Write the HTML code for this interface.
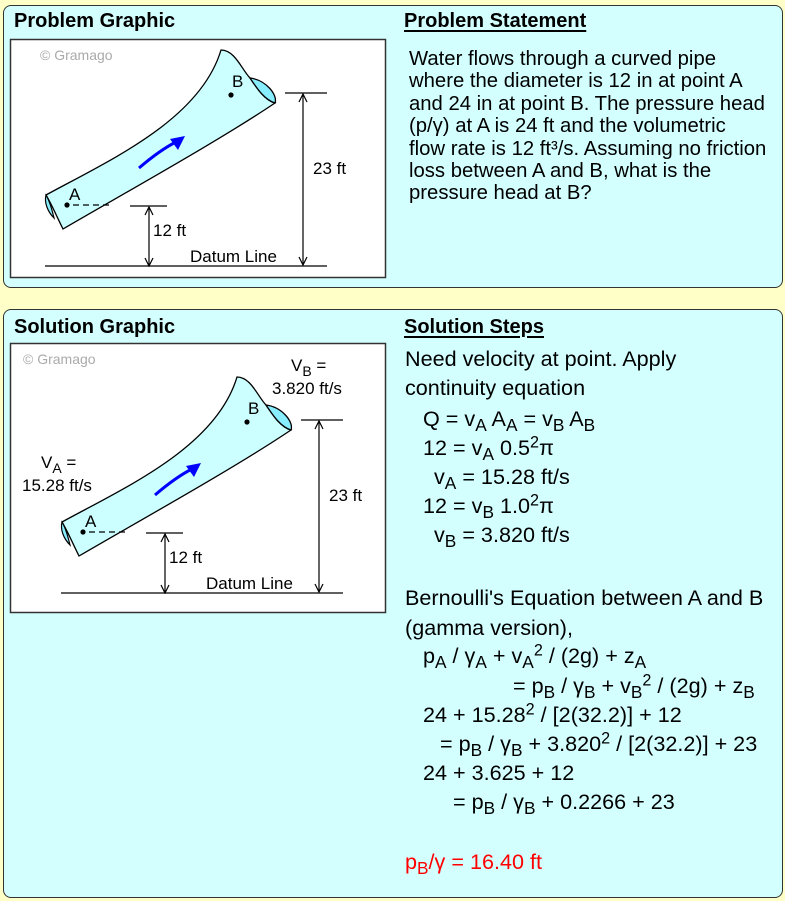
<!DOCTYPE html>
<html><head><style>
body{margin:0;width:785px;height:901px;background:#ffffc8;font-family:"Liberation Sans",Arial,sans-serif;position:relative;overflow:hidden}
.panel{position:absolute;left:3px;width:778px;background:#d4ffff;border:1.5px solid #333;border-radius:8px}
.t{position:absolute;white-space:pre;font-size:21.6px;color:#000;line-height:24px}
.h{position:absolute;font-weight:bold;font-size:20px;white-space:pre}
.u{text-decoration:underline;text-decoration-thickness:2px;text-underline-offset:3px}
sub{font-size:0.8em;vertical-align:-0.3em;line-height:0}
sup{font-size:0.75em;vertical-align:0.45em;line-height:0}
svg{position:absolute;left:0;top:0}
</style></head><body>
<div class="panel" style="top:5px;height:281px"></div>
<div class="panel" style="top:309px;height:587px"></div>
<div class="h" style="left:14px;top:10px">Problem Graphic</div>
<div class="h u" style="left:404px;top:10px">Problem Statement</div>
<div class="h" style="left:14px;top:316px">Solution Graphic</div>
<div class="h u" style="left:404px;top:316px">Solution Steps</div>

<svg width="785" height="901" font-family="Liberation Sans, Arial, sans-serif">
<defs>
<marker id="ar" markerWidth="10" markerHeight="10" refX="9" refY="5" orient="auto-start-reverse" markerUnits="userSpaceOnUse"><path d="M1,1 L9,5 L1,9" fill="none" stroke="#000" stroke-width="1.2"/></marker>
<g id="g">
<path d="M46,195 C110,160 200,120 221,50 C235,50 242,70 250,78 C258,90 265,100 275,103 C220,140 130,190 63,229 C56,215 52,205 46,195 Z" fill="#ccffff" stroke="#000" stroke-width="1.3"/>
<path d="M250,78 C266,80 278,95 275,103 C265,100 258,90 250,78 Z" fill="#88eeff" stroke="#000" stroke-width="1.3"/>
<path d="M46,195 C44,203 48,212 54,218 C52,210 50,202 46,195 Z" fill="#88eeff" stroke="#000" stroke-width="1.2"/>
<path d="M139,168 Q160,150 176,142" fill="none" stroke="#0000ff" stroke-width="3"/>
<path d="M185,136 L170,139 L178,150 Z" fill="#0000ff"/>
<circle cx="67" cy="205" r="2.6" fill="#000"/>
<circle cx="231" cy="95" r="2.6" fill="#000"/>
<text x="69" y="200" font-size="17">A</text>
<text x="232" y="87" font-size="17">B</text>
<line x1="73" y1="205" x2="112" y2="205" stroke="#000" stroke-width="1.3" stroke-dasharray="6,4"/>
<line x1="130" y1="206" x2="167" y2="206" stroke="#000" stroke-width="1.3"/>
<line x1="149" y1="207" x2="149" y2="266" stroke="#000" stroke-width="1.2" marker-start="url(#ar)" marker-end="url(#ar)" />
<text x="153" y="236" font-size="17">12 ft</text>
<line x1="45" y1="266" x2="327" y2="266" stroke="#000" stroke-width="1.3"/>
<text x="190" y="262" font-size="17">Datum Line</text>
<line x1="285" y1="93" x2="327" y2="93" stroke="#000" stroke-width="1.3"/>
<line x1="303" y1="94" x2="303" y2="265" stroke="#000" stroke-width="1.2" marker-start="url(#ar)" marker-end="url(#ar)"/>
<text x="313" y="174" font-size="17">23 ft</text>
</g>
</defs>
<rect x="10.5" y="39.5" width="375" height="238" fill="#fff" stroke="#333" stroke-width="1.5"/>
<text x="40" y="60" font-size="14" fill="#aaa">© Gramago</text>
<use href="#g"/>
<rect x="10.5" y="343.5" width="375" height="269" fill="#fff" stroke="#333" stroke-width="1.5"/>
<text x="23" y="364" font-size="14" fill="#aaa">© Gramago</text>
<use href="#g" transform="translate(16,327)"/>
<text x="291" y="371" font-size="17">V<tspan font-size="14" dy="5">B</tspan><tspan dy="-5"> =</tspan></text>
<text x="272" y="394" font-size="17">3.820 ft/s</text>
<text x="41" y="468" font-size="17">V<tspan font-size="14" dy="5">A</tspan><tspan dy="-5"> =</tspan></text>
<text x="22" y="491" font-size="17">15.28 ft/s</text>
</svg>

<div class="t" style="left:409px;top:48px;line-height:22.4px;font-size:20.3px">Water flows through a curved pipe
where the diameter is 12 in at point A
and 24 in at point B. The pressure head
(p/γ) at A is 24 ft and the volumetric
flow rate is 12 ft³/s. Assuming no friction
loss between A and B, what is the
pressure head at B?</div>

<div class="t" style="left:405px;top:347px">Need velocity at point. Apply</div>
<div class="t" style="left:405px;top:376px">continuity equation</div>
<div class="t" style="left:423px;top:407px">Q = v<sub>A</sub> A<sub>A</sub> = v<sub>B</sub> A<sub>B</sub></div>
<div class="t" style="left:423px;top:436px">12 = v<sub>A</sub> 0.5<sup>2</sup>π</div>
<div class="t" style="left:434px;top:465px">v<sub>A</sub> = 15.28 ft/s</div>
<div class="t" style="left:423px;top:494px">12 = v<sub>B</sub> 1.0<sup>2</sup>π</div>
<div class="t" style="left:434px;top:523px">v<sub>B</sub> = 3.820 ft/s</div>
<div class="t" style="left:405px;top:586px">Bernoulli's Equation between A and B</div>
<div class="t" style="left:405px;top:616px">(gamma version),</div>
<div class="t" style="left:423px;top:644px">p<sub>A</sub> / γ<sub>A</sub> + v<sub>A</sub><sup>2</sup> / (2g) + z<sub>A</sub></div>
<div class="t" style="left:513px;top:674px">= p<sub>B</sub> / γ<sub>B</sub> + v<sub>B</sub><sup>2</sup> / (2g) + z<sub>B</sub></div>
<div class="t" style="left:423px;top:703px">24 + 15.28<sup>2</sup> / [2(32.2)] + 12</div>
<div class="t" style="left:440px;top:732px">= p<sub>B</sub> / γ<sub>B</sub> + 3.820<sup>2</sup> / [2(32.2)] + 23</div>
<div class="t" style="left:423px;top:761px">24 + 3.625 + 12</div>
<div class="t" style="left:453px;top:790px">= p<sub>B</sub> / γ<sub>B</sub> + 0.2266 + 23</div>
<div class="t" style="left:405px;top:850px;color:#ff0000">p<sub>B</sub>/γ = 16.40 ft</div>
</body></html>
